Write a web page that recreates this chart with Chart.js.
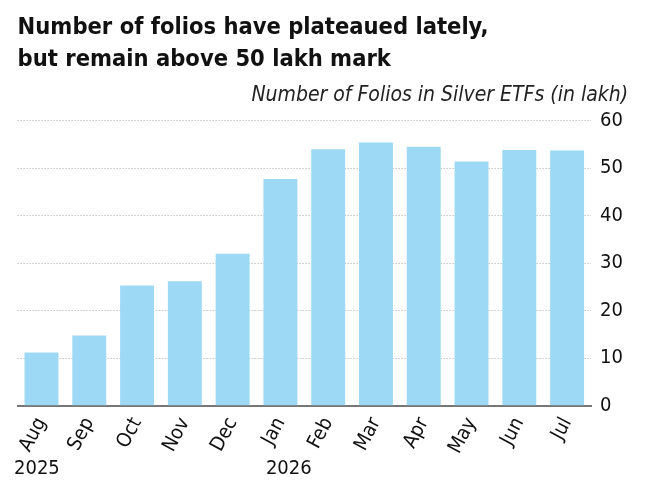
<!DOCTYPE html>
<html>
<head>
<meta charset="utf-8">
<script src="https://cdn.jsdelivr.net/npm/chart.js@4"></script>
<style>
  html, body { margin: 0; padding: 0; background: #ffffff; }
  #wrap { width: 660px; height: 482px; }
</style>
</head>
<body>
<div id="wrap"><canvas id="c" width="660" height="482"></canvas></div>
<script>
const categories = ["Aug", "Sep", "Oct", "Nov", "Dec", "Jan", "Feb", "Mar", "Apr", "May", "Jun", "Jul"];
const folios = [11.2, 14.8, 25.3, 26.2, 32.0, 47.7, 54.0, 55.4, 54.5, 51.4, 53.8, 53.7];
const yTicks = [0, 10, 20, 30, 40, 50, 60];
const yearLabels = [{ index: 0, text: "2025", shift: -27.5 }, { index: 5, text: "2026", shift: -14.5 }];
const titleLines = ["Number of folios have plateaued lately,", "but remain above 50 lakh mark"];
const subtitleText = "Number of Folios in Silver ETFs (in lakh)";

const FONT = "'Liberation Sans Narrow', 'DejaVu Sans Condensed', 'Arial Narrow', sans-serif";

const yearPlugin = {
  id: 'yearLabels',
  afterDraw(chart) {
    const ctx = chart.ctx;
    const xs = chart.scales.x;
    ctx.save();
    ctx.font = "20px " + FONT;
    ctx.fillStyle = '#111111';
    ctx.textAlign = 'left';
    ctx.textBaseline = 'alphabetic';
    yearLabels.forEach(y => {
      ctx.fillText(y.text, xs.getPixelForValue(y.index) + y.shift, 474);
    });
    ctx.restore();
  }
};

new Chart(document.getElementById('c'), {
  type: 'bar',
  data: {
    labels: categories,
    datasets: [{
      data: folios,
      backgroundColor: '#9dd9f4',
      borderWidth: 0,
      categoryPercentage: 1.0,
      barPercentage: 0.71
    }]
  },
  options: {
    responsive: false,
    animation: false,
    devicePixelRatio: 1,
    layout: { padding: { left: 17.6, right: 32, top: 0, bottom: 0 } },
    plugins: {
      legend: { display: false },
      tooltip: { enabled: false },
      title: {
        display: true,
        text: titleLines,
        align: 'start',
        color: '#111111',
        font: { family: FONT, size: 23.5, weight: 'bold', lineHeight: 1.35 },
        padding: { top: 12, bottom: 0 }
      },
      subtitle: {
        display: true,
        text: subtitleText,
        align: 'end',
        color: '#222222',
        font: { family: FONT, size: 21, style: 'italic', lineHeight: 1.2 },
        padding: { top: 7, bottom: 13 }
      }
    },
    scales: {
      x: {
        grid: { display: false },
        border: { display: true, color: '#777777', width: 2 },
        ticks: {
          color: '#111111',
          font: { family: FONT, size: 20 },
          minRotation: 62,
          maxRotation: 62,
          padding: 0,
          autoSkip: false
        },
        afterFit(scale) { scale.height = 482 - 405.7; scale.paddingLeft = 0; scale.paddingRight = 0; }
      },
      y: {
        position: 'right',
        min: 0,
        max: 60,
        afterBuildTicks(scale) { scale.ticks = yTicks.map(v => ({ value: v })); },
        grid: {
          drawTicks: false,
          color: (c) => c.tick && c.tick.value === 0 ? 'rgba(0,0,0,0)' : '#a8a8a8',
          lineWidth: 1
        },
        border: { display: false, dash: [1, 2] },
        ticks: {
          color: '#111111',
          font: { family: FONT, size: 20 },
          padding: 9,
          align: 'center',
          crossAlign: 'near'
        },
        afterFit(scale) { scale.width = 660 - 32 - 591; scale.paddingTop = 0; scale.paddingBottom = 0; }
      }
    }
  },
  plugins: [yearPlugin]
});
</script>
</body>
</html>
